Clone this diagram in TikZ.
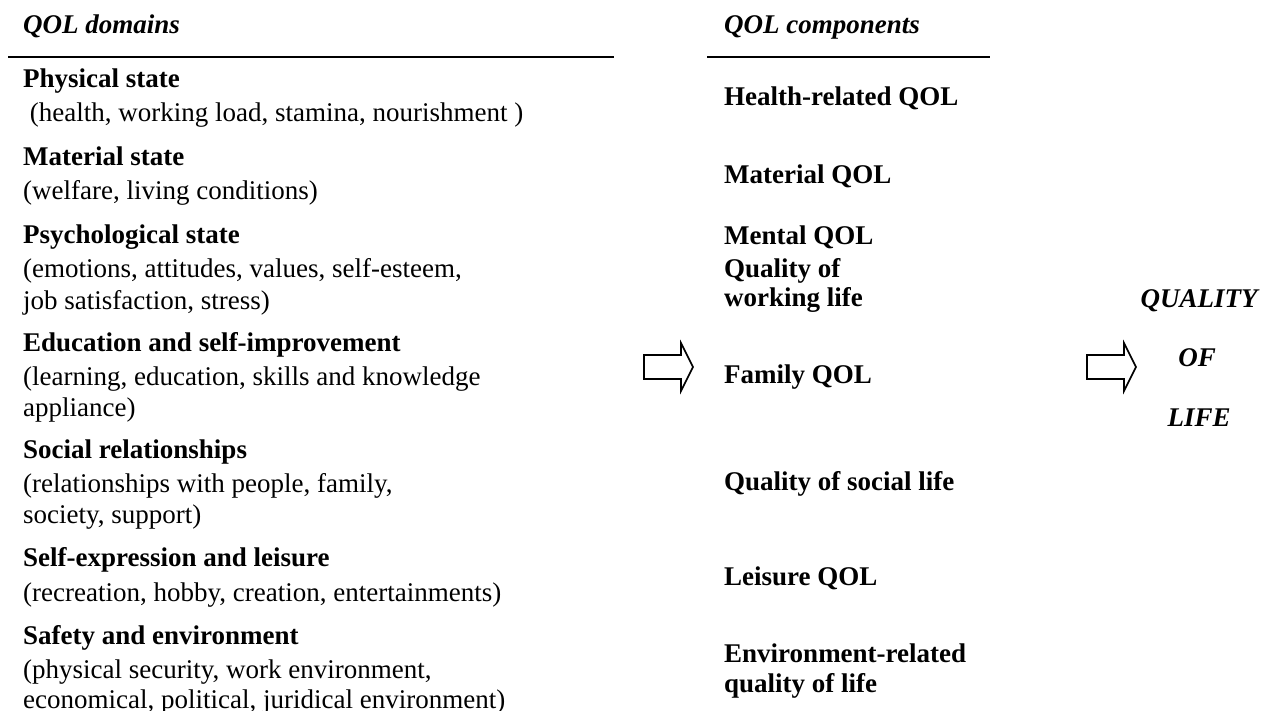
\documentclass[tikz,border=0pt]{standalone}
\usepackage{fontspec}
\setmainfont{Liberation Serif}
\begin{document}
\begin{tikzpicture}[x=1pt,y=-1pt,
  txt/.style={inner sep=0pt, anchor=base west, font=\fontsize{27}{31}\selectfont},
  head/.style={txt, font=\fontsize{27}{31}\selectfont\bfseries\itshape},
  bold/.style={txt, font=\fontsize{27}{31}\selectfont\bfseries},
  big/.style={inner sep=0pt, anchor=base, font=\fontsize{27}{31}\selectfont\bfseries\itshape},
  rule/.style={line width=2pt},
  blockarr/.pic={\draw[line width=1.6pt, line join=miter]
     (0,-12) -- (37,-12) -- (37,-24) -- (49,0) -- (37,24) -- (37,12) -- (0,12) -- cycle;}]
\useasboundingbox (0,0) rectangle (1263,711);
% headings
\node[head] (h1) at (23,34) {QOL domains};
\node[head] (h2) at (724,34) {QOL components};
\coordinate (l1a) at (8,57); \coordinate (l1b) at (614,57);
\coordinate (l2a) at (707,57); \coordinate (l2b) at (990,57);
\draw[rule] (l1a) -- (l1b);
\draw[rule] (l2a) -- (l2b);
% domains
\node[bold] (d1) at (23,88) {Physical state};
\node[txt] (d1a) at (23,122) {\ (health, working load, stamina, nourishment )};
\node[bold] (d2) at (23,166) {Material state};
\node[txt] (d2a) at (23,200) {(welfare, living conditions)};
\node[bold] (d3) at (23,244) {Psychological state};
\node[txt] (d3a) at (23,278) {(emotions, attitudes, values, self-esteem,};
\node[txt] (d3b) at (23,309) {job satisfaction, stress)};
\node[bold] (d4) at (23,351) {Education and self-improvement};
\node[txt] (d4a) at (23,385) {(learning, education, skills and knowledge};
\node[txt] (d4b) at (23,416) {appliance)};
\node[bold] (d5) at (23,458) {Social relationships};
\node[txt] (d5a) at (23,492) {(relationships with people, family,};
\node[txt] (d5b) at (23,523) {society, support)};
\node[bold] (d6) at (23,566) {Self-expression and leisure};
\node[txt] (d6a) at (23,601) {(recreation, hobby, creation, entertainments)};
\node[bold] (d7) at (23,644) {Safety and environment};
\node[txt] (d7a) at (23,678) {(physical security, work environment,};
\node[txt] (d7b) at (23,708) {economical, political, juridical environment)};
% components
\node[bold] (c1) at (724,106) {Health-related QOL};
\node[bold] (c2) at (724,184) {Material QOL};
\node[bold] (c3) at (724,245) {Mental QOL};
\node[bold] (c3a) at (724,277) {Quality of};
\node[bold] (c3b) at (724,306) {working life};
\node[bold] (c4) at (724,383) {Family QOL};
\node[bold] (c5) at (724,490) {Quality of social life};
\node[bold] (c6) at (724,585) {Leisure QOL};
\node[bold] (c7) at (724,662) {Environment-related};
\node[bold] (c7a) at (724,692) {quality of life};
% result
\node[big] (q1) at (1199,307) {QUALITY};
\node[big] (q2) at (1197,366) {OF};
\node[big] (q3) at (1199,426) {LIFE};
% arrows
\pic (arr1) at (644,367) {blockarr};
\pic (arr2) at (1087,367) {blockarr};
\end{tikzpicture}
\end{document}
